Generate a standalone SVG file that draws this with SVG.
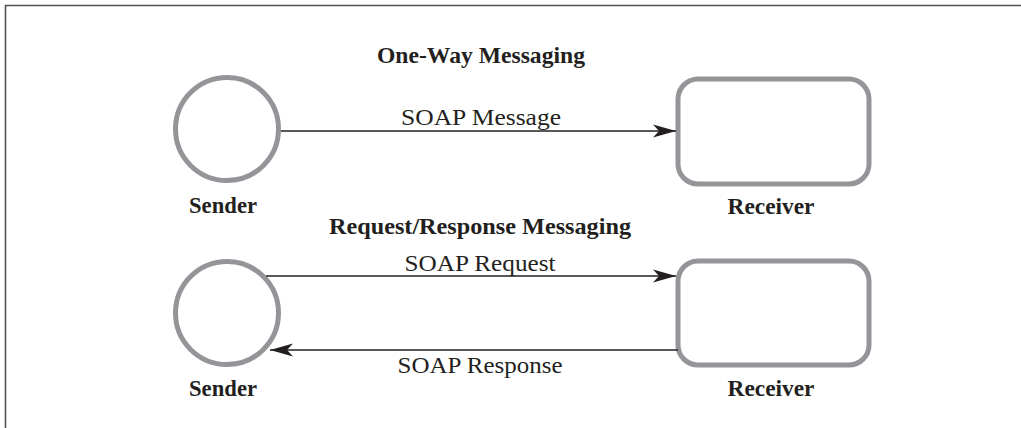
<svg xmlns="http://www.w3.org/2000/svg" width="1021" height="428" viewBox="0 0 1021 428">
  <style>
    .frame { stroke: #505050; stroke-width: 1.6; fill: none; }
    .node { fill: #ffffff; stroke: #939598; stroke-width: 5; }
    .conn { stroke: #231f20; stroke-width: 1.4; fill: none; }
    .title { font-family: "Liberation Serif", "Times New Roman", serif; font-weight: bold; font-size: 23px; fill: #231f20; text-anchor: middle; }
    .lbl { font-family: "Liberation Serif", "Times New Roman", serif; font-size: 22.5px; fill: #231f20; text-anchor: middle; }
  </style>
  <defs>
    <marker id="arrow" markerUnits="userSpaceOnUse" markerWidth="26" markerHeight="16" viewBox="-24 -8 26 16" refX="0" refY="0" orient="auto">
      <path d="M0,0 L-23,-6.5 L-17,0 L-23,6.5 Z" fill="#231f20"/>
    </marker>
  </defs>
  <rect width="1021" height="428" fill="#ffffff"/>
  <path class="frame" d="M5.5,428 L5.5,5.5 L1021,5.5"/>

  <text class="title" x="481" y="63" textLength="208" lengthAdjust="spacingAndGlyphs">One-Way Messaging</text>
  <text class="title" x="480" y="234" textLength="302" lengthAdjust="spacingAndGlyphs">Request/Response Messaging</text>

  <g id="sender1">
    <circle class="node" cx="227" cy="129" r="51.5"/>
    <text class="title" x="223" y="213" textLength="68" lengthAdjust="spacingAndGlyphs">Sender</text>
  </g>
  <g id="receiver1">
    <rect class="node" x="678" y="79" width="191" height="105" rx="20" ry="20"/>
    <text class="title" x="771" y="214" textLength="87" lengthAdjust="spacingAndGlyphs">Receiver</text>
  </g>
  <g id="sender2">
    <circle class="node" cx="227" cy="313" r="51.5"/>
    <text class="title" x="223" y="396" textLength="68" lengthAdjust="spacingAndGlyphs">Sender</text>
  </g>
  <g id="receiver2">
    <rect class="node" x="678" y="261" width="191" height="104" rx="20" ry="20"/>
    <text class="title" x="771" y="396" textLength="87" lengthAdjust="spacingAndGlyphs">Receiver</text>
  </g>

  <g id="connectors">
    <line class="conn" x1="281" y1="131" x2="676" y2="131" marker-end="url(#arrow)"/>
    <text class="lbl" x="481" y="125" textLength="160" lengthAdjust="spacingAndGlyphs">SOAP Message</text>
    <line class="conn" x1="266" y1="276" x2="676" y2="276" marker-end="url(#arrow)"/>
    <text class="lbl" x="480" y="271" textLength="151" lengthAdjust="spacingAndGlyphs">SOAP Request</text>
    <line class="conn" x1="678" y1="350" x2="270" y2="350" marker-end="url(#arrow)"/>
    <text class="lbl" x="480" y="373" textLength="165" lengthAdjust="spacingAndGlyphs">SOAP Response</text>
  </g>
</svg>
